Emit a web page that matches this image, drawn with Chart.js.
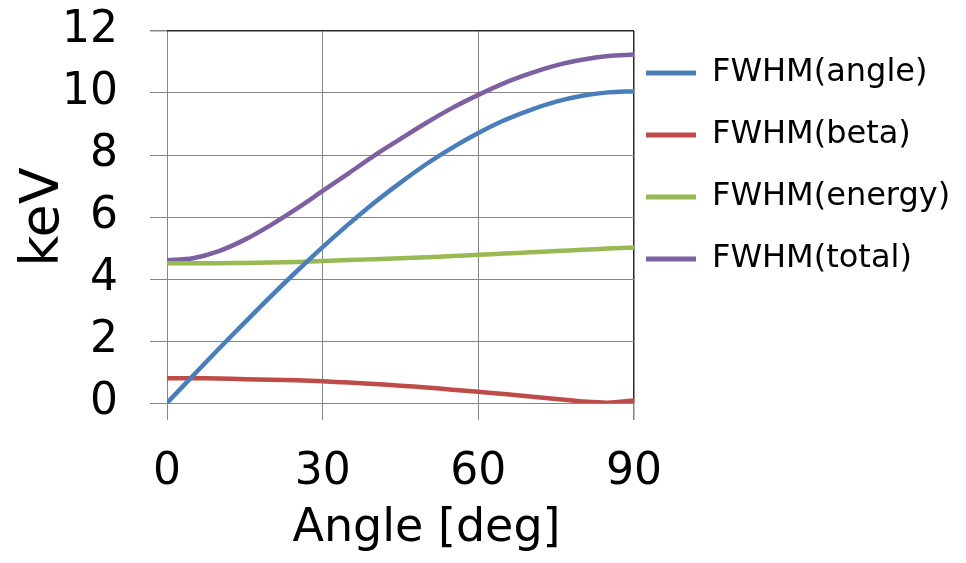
<!DOCTYPE html>
<html>
<head>
<meta charset="utf-8">
<script src="https://cdn.jsdelivr.net/npm/chart.js@4.4.0/dist/chart.umd.min.js"></script>
<style>
  body { margin: 0; background: #fff; }
</style>
</head>
<body>
<canvas id="chart" width="966" height="563"></canvas>
<script>
// values
const angles = [0, 5, 10, 15, 20, 25, 30, 35, 40, 45, 50, 55, 60, 65, 70, 75, 80, 85, 90];
const fwhmAngle = [0, 0.88, 1.75, 2.60, 3.44, 4.25, 5.03, 5.77, 6.47, 7.11, 7.71, 8.24, 8.71, 9.12, 9.45, 9.72, 9.91, 10.02, 10.06];
const fwhmBeta = [0.80, 0.80, 0.79, 0.77, 0.75, 0.73, 0.70, 0.66, 0.61, 0.56, 0.50, 0.43, 0.36, 0.29, 0.21, 0.13, 0.05, 0.01, 0.08];
const fwhmEnergy = [4.51, 4.51, 4.51, 4.52, 4.53, 4.55, 4.58, 4.61, 4.64, 4.67, 4.70, 4.74, 4.78, 4.82, 4.86, 4.90, 4.94, 4.98, 5.02];
const fwhmTotal = [4.60, 4.67, 4.90, 5.27, 5.74, 6.27, 6.84, 7.41, 7.99, 8.52, 9.04, 9.52, 9.94, 10.32, 10.63, 10.89, 11.07, 11.19, 11.24];

const seriesNames = ['FWHM(angle)', 'FWHM(beta)', 'FWHM(energy)', 'FWHM(total)'];
const seriesColors = ['#4A7EBB', '#BE4B48', '#98B954', '#7D60A0'];

const xMax = 90;
const yMax = 12;

function points(values) {
  return angles.map((a, i) => ({ x: a, y: values[i] }));
}

function makeDataset(label, values, color) {
  return {
    label: label,
    data: points(values),
    borderColor: color,
    backgroundColor: color,
    borderWidth: 4.5,
    borderCapStyle: 'round',
    pointRadius: 0,
    tension: 0.3,
    fill: false
  };
}

// nudge the legend and the x title so they sit where the original has them
const layoutTweaks = {
  id: 'layoutTweaks',
  afterLayout(chart) {
    const lg = chart.legend;
    lg.left -= 18;
    lg.top += 23;
    lg.bottom += 23;

    const xs = chart.scales.x;
    if (!xs._titleShifted) {
      const orig = xs.drawTitle;
      xs.drawTitle = function() {
        this.ctx.save();
        this.ctx.translate(26, 0);
        orig.apply(this, arguments);
        this.ctx.restore();
      };
      xs._titleShifted = true;
    }
  }
};

const font = 'DejaVu Sans';
const gridGray = '#868686';
const frameDark = '#2a2a2a';

new Chart(document.getElementById('chart'), {
  type: 'line',
  data: {
    datasets: [
      makeDataset(seriesNames[0], fwhmAngle, seriesColors[0]),
      makeDataset(seriesNames[1], fwhmBeta, seriesColors[1]),
      makeDataset(seriesNames[2], fwhmEnergy, seriesColors[2]),
      makeDataset(seriesNames[3], fwhmTotal, seriesColors[3])
    ]
  },
  plugins: [layoutTweaks],
  options: {
    responsive: false,
    animation: false,
    layout: { padding: { top: 4, right: 0, left: 0, bottom: 0 } },
    scales: {
      x: {
        type: 'linear',
        min: 0,
        max: xMax,
        afterFit(scale) {
          scale.height = 160;
        },
        ticks: { stepSize: 30, color: '#000', font: { family: font, size: 44 }, padding: 26, maxRotation: 0 },
        grid: {
          color: ctx => (ctx.tick && ctx.tick.value === xMax ? frameDark : gridGray),
          tickColor: gridGray,
          tickLength: 17,
          lineWidth: ctx => (ctx.tick && ctx.tick.value === xMax ? 1.5 : 1)
        },
        border: { display: false },
        title: { display: true, text: 'Angle [deg]', color: '#000', font: { family: font, size: 46, lineHeight: 1.2 }, padding: { top: 0, bottom: 6 } }
      },
      y: {
        min: 0,
        max: yMax,
        afterFit(scale) {
          scale.width = 167;
          scale.paddingTop = 31;
          scale.paddingBottom = 26;
        },
        ticks: { stepSize: 2, color: '#000', font: { family: font, size: 44 }, padding: 32 },
        grid: {
          color: ctx => (ctx.tick && ctx.tick.value === yMax ? frameDark : gridGray),
          tickColor: gridGray,
          tickLength: 17,
          lineWidth: ctx => (ctx.tick && ctx.tick.value === yMax ? 1.5 : 1)
        },
        border: { display: false },
        title: { display: true, text: 'keV', color: '#000', font: { family: font, size: 54, lineHeight: 1.0 }, padding: { top: 17, bottom: 0 } }
      }
    },
    plugins: {
      legend: {
        position: 'right',
        align: 'start',
        maxWidth: 332,
        labels: {
          color: '#000',
          font: { family: font, size: 32 },
          boxWidth: 50,
          boxHeight: 5,
          padding: 30,
          generateLabels(chart) {
            return chart.data.datasets.map((ds, i) => ({
              text: ds.label,
              fillStyle: ds.borderColor,
              strokeStyle: ds.borderColor,
              lineWidth: 0,
              hidden: false,
              datasetIndex: i
            }));
          }
        }
      },
      tooltip: { enabled: false }
    }
  }
});
</script>
</body>
</html>
